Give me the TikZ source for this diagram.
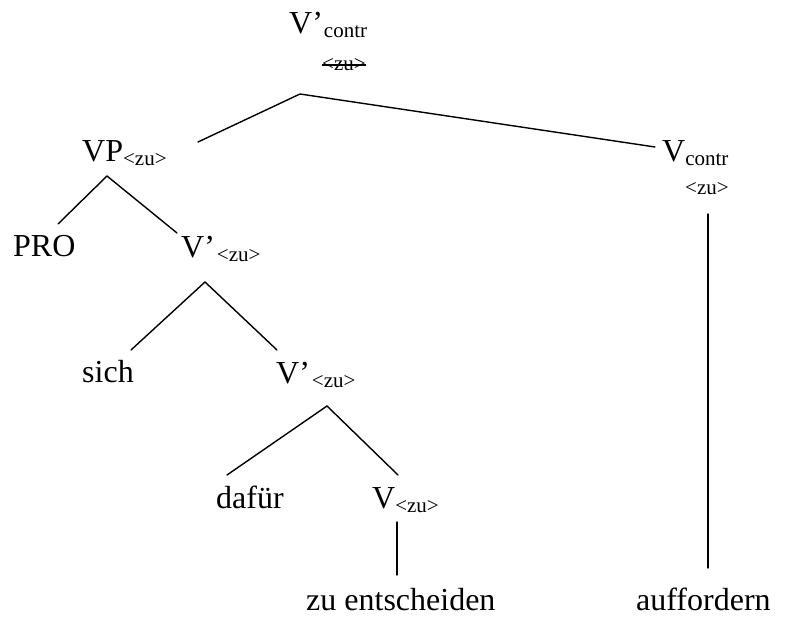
\documentclass[tikz,border=0pt]{standalone}
\usepackage{fontspec}
\setmainfont{Liberation Serif}
\newcommand{\bigf}{\fontsize{32}{38}\selectfont}
\newcommand{\smf}{\fontsize{21}{25}\selectfont}
\newcommand{\sbs}[1]{\raisebox{-4pt}{\smf #1}}
\begin{document}
\begin{tikzpicture}[x=1pt,y=-1pt,
  lbl/.style={anchor=base west,inner sep=0pt,font=\bigf},
  sml/.style={anchor=base west,inner sep=0pt,font=\smf},
  edge/.style={line width=1.4pt,line cap=round}]
\useasboundingbox (0,0) rectangle (795,617);
% nodes
\node[lbl] (root) at (289,34) {V’\kern1pt\sbs{contr}};
\node[sml] (rootzu) at (322,71) {<zu>};
\draw[line width=1.1pt] ([yshift=6pt]rootzu.base west) -- ([yshift=6pt]rootzu.base east);
\node[lbl] (vp) at (82,162) {VP\sbs{<zu>}};
\node[lbl] (vc) at (662,162) {V\sbs{contr}};
\node[sml] (vczu) at (685,195) {<zu>};
\node[lbl] (pro) at (13,257) {PRO};
\node[lbl] (v1) at (181,258) {V’\kern2pt\sbs{<zu>}};
\node[lbl] (sich) at (82,383) {sich};
\node[lbl] (v2) at (276,384) {V’\kern2pt\sbs{<zu>}};
\node[lbl] (dafur) at (216,508) {dafür};
\node[lbl] (v3) at (372,508) {V\sbs{<zu>}};
\node[lbl] (ze) at (306,610) {zu entscheiden};
\node[lbl] (auf) at (636,610) {auffordern};
% connector points
\coordinate (rootA) at (300,94);
\coordinate (vpT) at (198,142);
\coordinate (vcT) at (655,147);
\coordinate (vpA) at (107,176);
\coordinate (proT) at (58,224);
\coordinate (v1T) at (177,233);
\coordinate (v1A) at (205,282);
\coordinate (sichT) at (131,350);
\coordinate (v2T) at (277,350);
\coordinate (v2A) at (327,406);
\coordinate (dafT) at (227,475);
\coordinate (v3T) at (398,475);
\coordinate (v3A) at (397,522);
\coordinate (zeT) at (397,575);
\coordinate (vcA) at (708,214);
\coordinate (aufT) at (708,568);
\draw[edge] (vpT) -- (rootA) -- (vcT);
\draw[edge] (proT) -- (vpA) -- (v1T);
\draw[edge] (sichT) -- (v1A) -- (v2T);
\draw[edge] (dafT) -- (v2A) -- (v3T);
\draw[edge] (v3A) -- (zeT);
\draw[edge] (vcA) -- (aufT);
\end{tikzpicture}
\end{document}
